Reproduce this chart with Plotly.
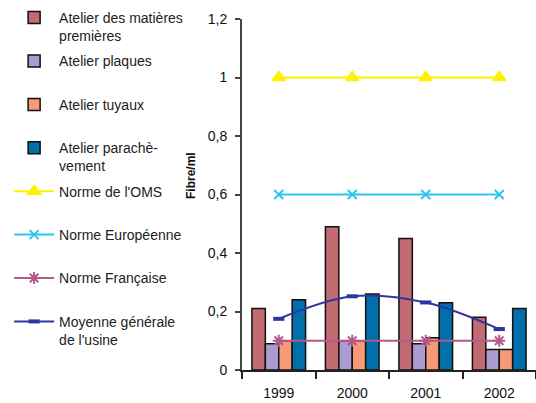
import plotly.graph_objects as go

years = ["1999", "2000", "2001", "2002"]
matieres = [0.21, 0.49, 0.45, 0.18]
plaques = [0.09, 0.10, 0.09, 0.07]
tuyaux = [0.10, 0.10, 0.11, 0.07]
parachevement = [0.24, 0.26, 0.23, 0.21]
oms = [1.0, 1.0, 1.0, 1.0]
europe = [0.6, 0.6, 0.6, 0.6]
france = [0.1, 0.1, 0.1, 0.1]
moyenne = [0.175, 0.252, 0.231, 0.14]
y_ticks = [0, 0.2, 0.4, 0.6, 0.8, 1.0, 1.2]

FONT = "Liberation Sans, Arial, sans-serif"

fig = go.Figure()
bar_specs = [
    ("Atelier des matières<br>premières", matieres, "#C26B72"),
    ("Atelier plaques<br>&nbsp;", plaques, "#A99CD0"),
    ("Atelier tuyaux<br>&nbsp;", tuyaux, "#F69A78"),
    ("Atelier parachè-<br>vement", parachevement, "#006FAA"),
]
for i, (name, vals, col) in enumerate(bar_specs):
    fig.add_trace(go.Bar(x=years, y=vals, name=name, marker_color=col,
                         marker_line=dict(color="#111", width=1.5),
                         legendgroup=f"g{i}"))

line_specs = [
    ("Norme de l'OMS<br>&nbsp;", oms, "#FFF200", "triangle-up", 11, 2, "linear"),
    ("Norme Européenne<br>&nbsp;", europe, "#2EC4F2", "x-thin-open", 9, 2, "linear"),
    ("Norme Française<br>&nbsp;", france, "#B45A8A", "asterisk-open", 10, 2, "linear"),
    ("Moyenne générale<br>de l'usine", moyenne, "#2E35A0", "line-ew-open", 8, 4, "spline"),
]
for j, (name, vals, col, sym, sz, mlw, shape) in enumerate(line_specs):
    fig.add_trace(go.Scatter(x=years, y=vals, name=name, mode="lines+markers",
                             line=dict(color=col, width=2, shape=shape),
                             marker=dict(symbol=sym, size=sz, color=col,
                                         line=dict(color=col, width=mlw)),
                             legendgroup=f"l{j}"))

fig.update_layout(
    width=536, height=403,
    margin=dict(l=242, r=0, t=19, b=33),
    plot_bgcolor="white", paper_bgcolor="white",
    barmode="group", bargap=0.27, bargroupgap=0,
    separators=", ",
    font=dict(family=FONT, size=14, color="#111"),
    showlegend=True,
    legend=dict(xref="container", yref="container", x=0.017, y=0.995,
                xanchor="left", yanchor="top", valign="top",
                font=dict(family=FONT, size=14, color="#222"),
                itemwidth=40, tracegroupgap=4, traceorder="grouped",
                maxheight=403,
                bgcolor="rgba(0,0,0,0)"),
    xaxis=dict(type="category", showline=True, linecolor="#222", linewidth=2,
               ticks="outside", tickson="boundaries", ticklen=7, tickwidth=2,
               tickcolor="#222", showgrid=False, tickfont=dict(size=14),
               ticklabelstandoff=9),
    yaxis=dict(range=[0, 1.2], tickvals=y_ticks, showline=True, linecolor="#444",
               linewidth=2, ticks="outside", ticklen=5, tickwidth=2, tickcolor="#444",
               showgrid=False, zeroline=False, tickfont=dict(size=14),
               ticklabelstandoff=5),
    annotations=[dict(text="<b>Fibre/ml</b>", xref="paper", yref="paper",
                      x=(191 - 242) / 294, y=(370 - 176) / 351, textangle=-90,
                      xanchor="center", yanchor="middle", showarrow=False,
                      font=dict(family=FONT, size=12, color="#111"))],
)

fig.write_html("out.html", post_script="document.body.style.margin='0';",
               config={"displayModeBar": False})
